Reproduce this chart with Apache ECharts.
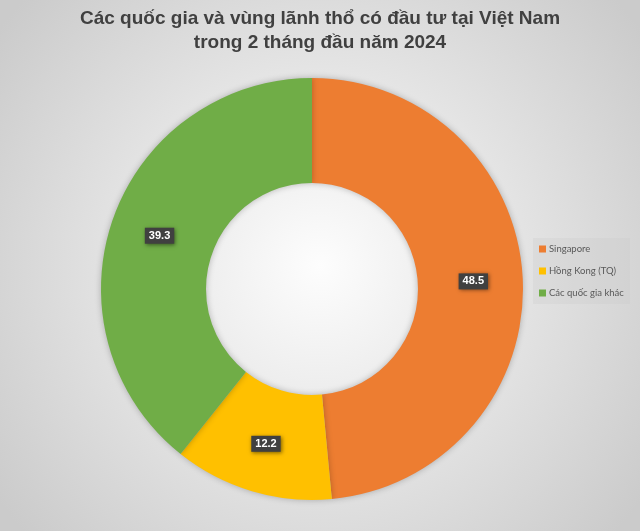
<!DOCTYPE html>
<html><head><meta charset="utf-8">
<script src="https://cdn.jsdelivr.net/npm/echarts@6/dist/echarts.min.js"></script>
<style>html,body{margin:0;padding:0;}#c{width:640px;height:531px;}</style>
</head><body><div id="c"></div>
<script>
const categories = ['Singapore', 'Hồng Kong (TQ)', 'Các quốc gia khác'];
const values = [48.5, 12.2, 39.3];
const colors = ['#ED7D31', '#FFC000', '#70AD47'];

const chart = echarts.init(document.getElementById('c'));
chart.setOption({
  backgroundColor: {type:'radial', x:0.5, y:0.5, r:0.75, colorStops:[{offset:0,color:'#fdfdfd'},{offset:1,color:'#cbcbcb'}]},
  title: {
    text: 'Các quốc gia và vùng lãnh thổ có đầu tư tại Việt Nam\ntrong 2 tháng đầu năm 2024',
    left: 'center', top: 2,
    textStyle: {fontFamily:'Liberation Sans, Arial', fontSize:19, fontWeight:'bold', color:'#404040', lineHeight:24}
  },
  legend: {
    orient:'vertical', left:533, top:238,
    itemWidth:7, itemHeight:7, itemGap:12, icon:'rect',
    padding:[6,6,6,6],
    backgroundColor:'rgba(200,200,200,0.25)',
    textStyle:{fontFamily:'Lato, Open Sans, sans-serif', fontSize:9.5, color:'#595959', padding:[0,0,0,-2]},
    data: categories
  },
  series: [{
    type:'pie', center:[312,289], radius:[106,211], startAngle:90, clockwise:true,
    avoidLabelOverlap:false,
    itemStyle:{shadowBlur:6, shadowColor:'rgba(0,0,0,0.25)'},
    label:{show:true, position:'inside', formatter:p=>p.value.toFixed(1),
      color:'#fff', fontWeight:'bold', fontSize:11, fontFamily:'Liberation Sans, Arial',
      backgroundColor:'#404040', padding:[3,4,2,4],
      shadowBlur:4, shadowColor:'rgba(0,0,0,0.5)', shadowOffsetX:1, shadowOffsetY:1},
    labelLine:{show:false},
    emphasis:{disabled:true},
    data: categories.map((c,i)=>({name:c, value:values[i], itemStyle:{color:colors[i]}}))
  }]
});
</script></body></html>
